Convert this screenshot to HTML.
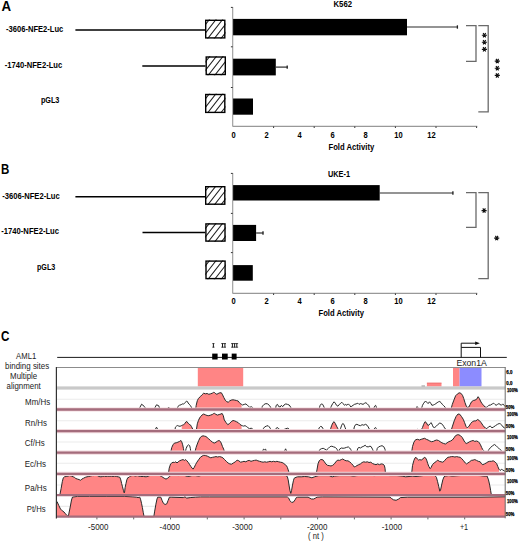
<!DOCTYPE html>
<html><head><meta charset="utf-8"><style>
html,body{margin:0;padding:0;background:#fff;}
svg{display:block;}
</style></head><body>
<svg width="520" height="542" viewBox="0 0 520 542">
<rect width="520" height="542" fill="#fff"/>
<text x="1.4" y="10.7" font-family="'Liberation Sans', sans-serif" font-size="13.8" font-weight="bold" fill="#000" text-anchor="start" textLength="9.6" lengthAdjust="spacingAndGlyphs">A</text>
<text x="6.1" y="32.1" font-family="'Liberation Sans', sans-serif" font-size="8.6" font-weight="bold" fill="#000" text-anchor="start" textLength="57.2" lengthAdjust="spacingAndGlyphs">-3606-NFE2-Luc</text>
<text x="4.7" y="67.9" font-family="'Liberation Sans', sans-serif" font-size="8.6" font-weight="bold" fill="#000" text-anchor="start" textLength="57.5" lengthAdjust="spacingAndGlyphs">-1740-NFE2-Luc</text>
<text x="40.9" y="102.9" font-family="'Liberation Sans', sans-serif" font-size="8.6" font-weight="bold" fill="#000" text-anchor="start" textLength="18.5" lengthAdjust="spacingAndGlyphs">pGL3</text>
<line x1="75.4" y1="30.0" x2="206" y2="30.0" stroke="#000" stroke-width="1.4"/>
<line x1="142.3" y1="66.0" x2="206" y2="66.0" stroke="#000" stroke-width="1.4"/>
<clipPath id="hA0"><rect x="205.0" y="19.6" width="20.5" height="19.0"/></clipPath>
<rect x="205.0" y="19.6" width="20.5" height="19.0" fill="#fff"/>
<path clip-path="url(#hA0)" d="M228.22,-13.03L178.94,50.01M232.32,-9.83L183.04,53.21M236.42,-6.62L187.14,56.42M240.51,-3.42L191.23,59.62M244.61,-0.22L195.33,62.82M248.71,2.99L199.43,66.03M252.81,6.19L203.53,69.23M256.90,9.39L207.62,72.43" stroke="#222" stroke-width="1.05" fill="none"/>
<rect x="205.7" y="20.3" width="19.1" height="17.6" fill="none" stroke="#000" stroke-width="1.4"/>
<clipPath id="hA1"><rect x="205.5" y="56.3" width="20.5" height="18.9"/></clipPath>
<rect x="205.5" y="56.3" width="20.5" height="18.9" fill="#fff"/>
<path clip-path="url(#hA1)" d="M228.72,23.67L179.44,86.71M232.82,26.87L183.54,89.91M236.92,30.08L187.64,93.12M241.01,33.28L191.73,96.32M245.11,36.48L195.83,99.52M249.21,39.69L199.93,102.73M253.31,42.89L204.03,105.93M257.40,46.09L208.12,109.13" stroke="#222" stroke-width="1.05" fill="none"/>
<rect x="206.2" y="57.0" width="19.1" height="17.5" fill="none" stroke="#000" stroke-width="1.4"/>
<clipPath id="hA2"><rect x="205.0" y="93.8" width="20.5" height="19.3"/></clipPath>
<rect x="205.0" y="93.8" width="20.5" height="19.3" fill="#fff"/>
<path clip-path="url(#hA2)" d="M228.22,61.17L178.94,124.21M232.32,64.37L183.04,127.41M236.42,67.58L187.14,130.62M240.51,70.78L191.23,133.82M244.61,73.98L195.33,137.02M248.71,77.19L199.43,140.23M252.81,80.39L203.53,143.43M256.90,83.59L207.62,146.63" stroke="#222" stroke-width="1.05" fill="none"/>
<rect x="205.7" y="94.5" width="19.1" height="17.900000000000002" fill="none" stroke="#000" stroke-width="1.4"/>
<line x1="232.7" y1="7.1" x2="232.7" y2="126.4" stroke="#999" stroke-width="1.1"/>
<line x1="230.89999999999998" y1="7.4" x2="232.7" y2="7.4" stroke="#333" stroke-width="1"/>
<line x1="230.89999999999998" y1="46.8" x2="232.7" y2="46.8" stroke="#333" stroke-width="1"/>
<line x1="230.89999999999998" y1="87.5" x2="232.7" y2="87.5" stroke="#333" stroke-width="1"/>
<line x1="232.7" y1="126.4" x2="477.3" y2="126.4" stroke="#999" stroke-width="1.1"/>
<line x1="273.6" y1="126.4" x2="273.6" y2="128.0" stroke="#333" stroke-width="1"/>
<line x1="314.2" y1="126.4" x2="314.2" y2="128.0" stroke="#333" stroke-width="1"/>
<line x1="354.8" y1="126.4" x2="354.8" y2="128.0" stroke="#333" stroke-width="1"/>
<line x1="395.4" y1="126.4" x2="395.4" y2="128.0" stroke="#333" stroke-width="1"/>
<line x1="436.0" y1="126.4" x2="436.0" y2="128.0" stroke="#333" stroke-width="1"/>
<line x1="476.6" y1="126.4" x2="476.6" y2="128.0" stroke="#333" stroke-width="1"/>
<rect x="233.1" y="18.9" width="173.90" height="16.40" fill="#000"/>
<line x1="407.0" y1="27.0" x2="457.7" y2="27.0" stroke="#2a2a2a" stroke-width="1.2"/>
<line x1="457.4" y1="25.3" x2="457.4" y2="28.7" stroke="#222" stroke-width="1.3"/>
<rect x="233.1" y="58.7" width="42.70" height="16.70" fill="#000"/>
<line x1="275.8" y1="67.1" x2="287.5" y2="67.1" stroke="#2a2a2a" stroke-width="1.2"/>
<line x1="287.2" y1="65.39999999999999" x2="287.2" y2="68.8" stroke="#222" stroke-width="1.3"/>
<rect x="233.1" y="98.5" width="19.90" height="16.20" fill="#000"/>
<text x="233.5" y="138.0" font-family="'Liberation Sans', sans-serif" font-size="8.8" font-weight="bold" fill="#000" text-anchor="middle" textLength="4.2" lengthAdjust="spacingAndGlyphs">0</text>
<text x="266.5" y="138.0" font-family="'Liberation Sans', sans-serif" font-size="8.8" font-weight="bold" fill="#000" text-anchor="middle" textLength="4.2" lengthAdjust="spacingAndGlyphs">2</text>
<text x="299.5" y="138.0" font-family="'Liberation Sans', sans-serif" font-size="8.8" font-weight="bold" fill="#000" text-anchor="middle" textLength="4.2" lengthAdjust="spacingAndGlyphs">4</text>
<text x="332.5" y="138.0" font-family="'Liberation Sans', sans-serif" font-size="8.8" font-weight="bold" fill="#000" text-anchor="middle" textLength="4.2" lengthAdjust="spacingAndGlyphs">6</text>
<text x="365.5" y="138.0" font-family="'Liberation Sans', sans-serif" font-size="8.8" font-weight="bold" fill="#000" text-anchor="middle" textLength="4.2" lengthAdjust="spacingAndGlyphs">8</text>
<text x="398.5" y="138.0" font-family="'Liberation Sans', sans-serif" font-size="8.8" font-weight="bold" fill="#000" text-anchor="middle" textLength="8.4" lengthAdjust="spacingAndGlyphs">10</text>
<text x="431.5" y="138.0" font-family="'Liberation Sans', sans-serif" font-size="8.8" font-weight="bold" fill="#000" text-anchor="middle" textLength="8.4" lengthAdjust="spacingAndGlyphs">12</text>
<text x="328.5" y="149.9" font-family="'Liberation Sans', sans-serif" font-size="8.8" font-weight="bold" fill="#000" text-anchor="start" textLength="45.7" lengthAdjust="spacingAndGlyphs">Fold Activity</text>
<text x="333.5" y="6.9" font-family="'Liberation Sans', sans-serif" font-size="8.6" font-weight="bold" fill="#000" text-anchor="start" textLength="18.5" lengthAdjust="spacingAndGlyphs">K562</text>
<path d="M466.0,25.6H476.0V61.4H466.0" stroke="#6a6a6a" stroke-width="1.3" fill="none"/>
<path d="M478.3,25.6H488.2V111.9H478.3" stroke="#6a6a6a" stroke-width="1.3" fill="none"/>
<path d="M481.85,35.20L486.95,35.20M483.12,32.99L485.67,37.41M485.67,32.99L483.12,37.41" stroke="#111" stroke-width="1.15" fill="none"/>
<path d="M481.85,42.20L486.95,42.20M483.12,39.99L485.67,44.41M485.67,39.99L483.12,44.41" stroke="#111" stroke-width="1.15" fill="none"/>
<path d="M481.85,49.30L486.95,49.30M483.12,47.09L485.67,51.51M485.67,47.09L483.12,51.51" stroke="#111" stroke-width="1.15" fill="none"/>
<path d="M494.75,61.10L499.85,61.10M496.03,58.89L498.57,63.31M498.57,58.89L496.03,63.31" stroke="#111" stroke-width="1.15" fill="none"/>
<path d="M494.75,68.20L499.85,68.20M496.03,65.99L498.57,70.41M498.57,65.99L496.03,70.41" stroke="#111" stroke-width="1.15" fill="none"/>
<path d="M494.75,75.40L499.85,75.40M496.03,73.19L498.57,77.61M498.57,73.19L496.03,77.61" stroke="#111" stroke-width="1.15" fill="none"/>
<text x="1.1" y="174.0" font-family="'Liberation Sans', sans-serif" font-size="13.8" font-weight="bold" fill="#000" text-anchor="start" textLength="8.3" lengthAdjust="spacingAndGlyphs">B</text>
<text x="2.3" y="198.6" font-family="'Liberation Sans', sans-serif" font-size="8.6" font-weight="bold" fill="#000" text-anchor="start" textLength="57.4" lengthAdjust="spacingAndGlyphs">-3606-NFE2-Luc</text>
<text x="1.3" y="234.2" font-family="'Liberation Sans', sans-serif" font-size="8.6" font-weight="bold" fill="#000" text-anchor="start" textLength="57.7" lengthAdjust="spacingAndGlyphs">-1740-NFE2-Luc</text>
<text x="37.0" y="270.0" font-family="'Liberation Sans', sans-serif" font-size="8.6" font-weight="bold" fill="#000" text-anchor="start" textLength="18.3" lengthAdjust="spacingAndGlyphs">pGL3</text>
<line x1="75.4" y1="196.7" x2="206" y2="196.7" stroke="#000" stroke-width="1.4"/>
<line x1="142.5" y1="232.5" x2="206" y2="232.5" stroke="#000" stroke-width="1.4"/>
<clipPath id="hB0"><rect x="205.0" y="186.0" width="20.5" height="18.9"/></clipPath>
<rect x="205.0" y="186.0" width="20.5" height="18.9" fill="#fff"/>
<path clip-path="url(#hB0)" d="M228.22,153.37L178.94,216.41M232.32,156.57L183.04,219.61M236.42,159.78L187.14,222.82M240.51,162.98L191.23,226.02M244.61,166.18L195.33,229.22M248.71,169.39L199.43,232.43M252.81,172.59L203.53,235.63M256.90,175.79L207.62,238.83" stroke="#222" stroke-width="1.05" fill="none"/>
<rect x="205.7" y="186.7" width="19.1" height="17.5" fill="none" stroke="#000" stroke-width="1.4"/>
<clipPath id="hB1"><rect x="205.2" y="223.2" width="20.5" height="18.6"/></clipPath>
<rect x="205.2" y="223.2" width="20.5" height="18.6" fill="#fff"/>
<path clip-path="url(#hB1)" d="M228.42,190.57L179.14,253.61M232.52,193.77L183.24,256.81M236.62,196.98L187.34,260.02M240.71,200.18L191.43,263.22M244.81,203.38L195.53,266.42M248.91,206.59L199.63,269.63M253.01,209.79L203.73,272.83M257.10,212.99L207.82,276.03" stroke="#222" stroke-width="1.05" fill="none"/>
<rect x="205.89999999999998" y="223.89999999999998" width="19.1" height="17.200000000000003" fill="none" stroke="#000" stroke-width="1.4"/>
<clipPath id="hB2"><rect x="205.3" y="260.4" width="20.5" height="18.9"/></clipPath>
<rect x="205.3" y="260.4" width="20.5" height="18.9" fill="#fff"/>
<path clip-path="url(#hB2)" d="M228.52,227.77L179.24,290.81M232.62,230.97L183.34,294.01M236.72,234.18L187.44,297.22M240.81,237.38L191.53,300.42M244.91,240.58L195.63,303.62M249.01,243.79L199.73,306.83M253.11,246.99L203.83,310.03M257.20,250.19L207.92,313.23" stroke="#222" stroke-width="1.05" fill="none"/>
<rect x="206.0" y="261.09999999999997" width="19.1" height="17.5" fill="none" stroke="#000" stroke-width="1.4"/>
<line x1="232.7" y1="173.1" x2="232.7" y2="293.4" stroke="#999" stroke-width="1.1"/>
<line x1="230.89999999999998" y1="173.4" x2="232.7" y2="173.4" stroke="#333" stroke-width="1"/>
<line x1="230.89999999999998" y1="213.4" x2="232.7" y2="213.4" stroke="#333" stroke-width="1"/>
<line x1="230.89999999999998" y1="252.6" x2="232.7" y2="252.6" stroke="#333" stroke-width="1"/>
<line x1="232.7" y1="293.4" x2="477.3" y2="293.4" stroke="#999" stroke-width="1.1"/>
<line x1="273.6" y1="293.4" x2="273.6" y2="295.0" stroke="#333" stroke-width="1"/>
<line x1="314.2" y1="293.4" x2="314.2" y2="295.0" stroke="#333" stroke-width="1"/>
<line x1="354.8" y1="293.4" x2="354.8" y2="295.0" stroke="#333" stroke-width="1"/>
<line x1="395.4" y1="293.4" x2="395.4" y2="295.0" stroke="#333" stroke-width="1"/>
<line x1="436.0" y1="293.4" x2="436.0" y2="295.0" stroke="#333" stroke-width="1"/>
<line x1="476.6" y1="293.4" x2="476.6" y2="295.0" stroke="#333" stroke-width="1"/>
<rect x="233.1" y="185.1" width="146.60" height="15.40" fill="#000"/>
<line x1="379.7" y1="193.0" x2="453.2" y2="193.0" stroke="#2a2a2a" stroke-width="1.2"/>
<line x1="452.9" y1="191.3" x2="452.9" y2="194.7" stroke="#222" stroke-width="1.3"/>
<rect x="233.1" y="224.9" width="23.00" height="16.10" fill="#000"/>
<line x1="256.1" y1="233.0" x2="263.3" y2="233.0" stroke="#2a2a2a" stroke-width="1.2"/>
<line x1="263.0" y1="231.3" x2="263.0" y2="234.7" stroke="#222" stroke-width="1.3"/>
<rect x="233.1" y="265.1" width="19.70" height="15.60" fill="#000"/>
<text x="233.5" y="304.4" font-family="'Liberation Sans', sans-serif" font-size="8.8" font-weight="bold" fill="#000" text-anchor="middle" textLength="4.2" lengthAdjust="spacingAndGlyphs">0</text>
<text x="266.5" y="304.4" font-family="'Liberation Sans', sans-serif" font-size="8.8" font-weight="bold" fill="#000" text-anchor="middle" textLength="4.2" lengthAdjust="spacingAndGlyphs">2</text>
<text x="299.5" y="304.4" font-family="'Liberation Sans', sans-serif" font-size="8.8" font-weight="bold" fill="#000" text-anchor="middle" textLength="4.2" lengthAdjust="spacingAndGlyphs">4</text>
<text x="332.5" y="304.4" font-family="'Liberation Sans', sans-serif" font-size="8.8" font-weight="bold" fill="#000" text-anchor="middle" textLength="4.2" lengthAdjust="spacingAndGlyphs">6</text>
<text x="365.5" y="304.4" font-family="'Liberation Sans', sans-serif" font-size="8.8" font-weight="bold" fill="#000" text-anchor="middle" textLength="4.2" lengthAdjust="spacingAndGlyphs">8</text>
<text x="398.5" y="304.4" font-family="'Liberation Sans', sans-serif" font-size="8.8" font-weight="bold" fill="#000" text-anchor="middle" textLength="8.4" lengthAdjust="spacingAndGlyphs">10</text>
<text x="431.5" y="304.4" font-family="'Liberation Sans', sans-serif" font-size="8.8" font-weight="bold" fill="#000" text-anchor="middle" textLength="8.4" lengthAdjust="spacingAndGlyphs">12</text>
<text x="318.5" y="315.8" font-family="'Liberation Sans', sans-serif" font-size="8.8" font-weight="bold" fill="#000" text-anchor="start" textLength="45.5" lengthAdjust="spacingAndGlyphs">Fold Activity</text>
<text x="328.0" y="177.1" font-family="'Liberation Sans', sans-serif" font-size="8.6" font-weight="bold" fill="#000" text-anchor="start" textLength="22.0" lengthAdjust="spacingAndGlyphs">UKE-1</text>
<path d="M466.0,192.6H476.0V227.4H466.0" stroke="#6a6a6a" stroke-width="1.3" fill="none"/>
<path d="M478.3,192.6H488.2V278.7H478.3" stroke="#6a6a6a" stroke-width="1.3" fill="none"/>
<path d="M481.55,210.60L486.65,210.60M482.83,208.39L485.38,212.81M485.38,208.39L482.83,212.81" stroke="#111" stroke-width="1.15" fill="none"/>
<path d="M494.15,238.10L499.25,238.10M495.43,235.89L497.97,240.31M497.97,235.89L495.43,240.31" stroke="#111" stroke-width="1.15" fill="none"/>
<text x="1.0" y="340.9" font-family="'Liberation Sans', sans-serif" font-size="13.8" font-weight="bold" fill="#000" text-anchor="start" textLength="8.4" lengthAdjust="spacingAndGlyphs">C</text>
<text x="16.1" y="358.6" font-family="'Liberation Sans', sans-serif" font-size="8.8" font-weight="normal" fill="#222" text-anchor="start" textLength="20.1" lengthAdjust="spacingAndGlyphs">AML1</text>
<text x="5.1" y="368.6" font-family="'Liberation Sans', sans-serif" font-size="8.8" font-weight="normal" fill="#222" text-anchor="start" textLength="44.1" lengthAdjust="spacingAndGlyphs">binding sites</text>
<text x="10.1" y="379.0" font-family="'Liberation Sans', sans-serif" font-size="8.8" font-weight="normal" fill="#222" text-anchor="start" textLength="27.1" lengthAdjust="spacingAndGlyphs">Multiple</text>
<text x="6.6" y="388.5" font-family="'Liberation Sans', sans-serif" font-size="8.8" font-weight="normal" fill="#222" text-anchor="start" textLength="34.1" lengthAdjust="spacingAndGlyphs">alignment</text>
<text x="25.1" y="404.9" font-family="'Liberation Sans', sans-serif" font-size="8.8" font-weight="normal" fill="#222" text-anchor="start" textLength="25.1" lengthAdjust="spacingAndGlyphs">Mm/Hs</text>
<text x="25.1" y="425.8" font-family="'Liberation Sans', sans-serif" font-size="8.8" font-weight="normal" fill="#222" text-anchor="start" textLength="21.9" lengthAdjust="spacingAndGlyphs">Rn/Hs</text>
<text x="24.8" y="445.9" font-family="'Liberation Sans', sans-serif" font-size="8.8" font-weight="normal" fill="#222" text-anchor="start" textLength="19.8" lengthAdjust="spacingAndGlyphs">Cf/Hs</text>
<text x="24.8" y="467.0" font-family="'Liberation Sans', sans-serif" font-size="8.8" font-weight="normal" fill="#222" text-anchor="start" textLength="21.3" lengthAdjust="spacingAndGlyphs">Ec/Hs</text>
<text x="24.8" y="491.0" font-family="'Liberation Sans', sans-serif" font-size="8.8" font-weight="normal" fill="#222" text-anchor="start" textLength="21.9" lengthAdjust="spacingAndGlyphs">Pa/Hs</text>
<text x="26.8" y="511.8" font-family="'Liberation Sans', sans-serif" font-size="8.8" font-weight="normal" fill="#222" text-anchor="start" textLength="18.8" lengthAdjust="spacingAndGlyphs">Pt/Hs</text>
<line x1="57.2" y1="357.4" x2="506.8" y2="357.4" stroke="#1a1a1a" stroke-width="1"/>
<rect x="212.2" y="353.6" width="5.4" height="5.9" fill="#000"/>
<rect x="222.0" y="353.6" width="5.7" height="5.9" fill="#000"/>
<rect x="231.7" y="353.6" width="4.9" height="5.9" fill="#000"/>
<rect x="212.3" y="343.3" width="2.2" height="0.75" fill="#1a1a1a"/>
<rect x="212.3" y="346.75" width="2.2" height="0.75" fill="#1a1a1a"/>
<rect x="212.90" y="343.3" width="1.0" height="4.2" fill="#1a1a1a"/>
<rect x="221.2" y="343.3" width="4.8" height="0.75" fill="#1a1a1a"/>
<rect x="221.2" y="346.75" width="4.8" height="0.75" fill="#1a1a1a"/>
<rect x="222.00" y="343.3" width="1.0" height="4.2" fill="#1a1a1a"/>
<rect x="224.40" y="343.3" width="1.0" height="4.2" fill="#1a1a1a"/>
<rect x="231.1" y="343.3" width="7.0" height="0.75" fill="#1a1a1a"/>
<rect x="231.1" y="346.75" width="7.0" height="0.75" fill="#1a1a1a"/>
<rect x="231.90" y="343.3" width="1.0" height="4.2" fill="#1a1a1a"/>
<rect x="234.10" y="343.3" width="1.0" height="4.2" fill="#1a1a1a"/>
<rect x="236.30" y="343.3" width="1.0" height="4.2" fill="#1a1a1a"/>
<path d="M461.2,357.4V347.4H480.5V357.4" fill="none" stroke="#111" stroke-width="1"/>
<path d="M461.2,347.4V343.2H476" fill="none" stroke="#111" stroke-width="1"/>
<path d="M475.2,341.4L479.9,343.2L475.2,345.0Z" fill="#111"/>
<text x="456.4" y="365.8" font-family="'Liberation Sans', sans-serif" font-size="8.6" font-weight="normal" fill="#222" text-anchor="start" textLength="30.4" lengthAdjust="spacingAndGlyphs">Exon1A</text>
<rect x="197.8" y="367.6" width="45.4" height="18.9" fill="#ff8585"/>
<rect x="426.9" y="382.8" width="14.6" height="3.7" fill="#ff8585"/>
<line x1="426.9" y1="383.1" x2="441.5" y2="383.1" stroke="#e06060" stroke-width="0.6"/>
<line x1="421.5" y1="386.1" x2="425" y2="386.1" stroke="#555" stroke-width="0.8"/>
<rect x="453.0" y="367.6" width="6.6" height="18.9" fill="#ff8585"/>
<rect x="459.6" y="367.6" width="21.9" height="18.9" fill="#8c8cff"/>
<rect x="57" y="386.4" width="448.3" height="3.2" fill="#c9c9c9"/>
<line x1="57" y1="399.2" x2="505.3" y2="399.2" stroke="#ebebeb" stroke-width="1.1"/>
<line x1="57" y1="420.8" x2="505.3" y2="420.8" stroke="#ebebeb" stroke-width="1.1"/>
<line x1="57" y1="442.0" x2="505.3" y2="442.0" stroke="#ebebeb" stroke-width="1.1"/>
<line x1="57" y1="463.3" x2="505.3" y2="463.3" stroke="#ebebeb" stroke-width="1.1"/>
<line x1="57" y1="485.0" x2="505.3" y2="485.0" stroke="#ebebeb" stroke-width="1.1"/>
<line x1="57" y1="506.4" x2="505.3" y2="506.4" stroke="#ebebeb" stroke-width="1.1"/>
<polygon points="195.6,409.5 195.6,409.5 196.2,405.3 197.3,400.7 198.5,398.4 200.2,396.7 201.9,394.9 203.7,393.2 205.4,393.8 207.1,393.5 208.8,394.3 210.6,393.8 212.3,393.2 213.5,392.4 214.6,392.6 215.8,393.8 216.9,394.3 218.1,393.5 219.8,392.8 221.4,392.8 222.6,394.9 223.8,397.5 225.2,400.1 226.9,401.8 228.3,402.2 229.5,401.0 231.2,400.1 233.0,399.8 234.7,400.1 236.4,400.5 238.2,401.0 239.4,402.7 240.8,403.9 241.6,404.4 241.6,409.5" fill="#ff8585"/>
<polygon points="451.0,409.5 451.0,409.1 452.3,404.4 453.9,400.1 455.6,395.8 457.3,394.1 459.1,392.8 460.8,393.2 462.5,395.3 463.7,398.4 465.0,402.7 466.3,406.2 467.2,407.4 467.6,407.3 467.6,409.5" fill="#ff8585"/>
<polygon points="468.3,409.5 468.3,407.1 468.9,407.0 470.2,404.4 471.5,401.8 473.3,400.5 475.0,400.1 476.7,399.2 478.1,396.7 479.3,398.4 480.5,401.0 481.9,403.6 483.7,405.3 485.0,407.0 486.2,407.4 486.2,409.5" fill="#ff8585"/>
<polygon points="181.7,431.2 181.7,425.5 182.3,425.2 183.5,424.9 184.6,423.8 185.8,422.0 186.9,421.5 188.1,423.2 189.2,424.3 190.4,424.9 191.5,426.7 192.3,428.2 192.3,431.2" fill="#ff8585"/>
<polygon points="196.2,431.2 196.2,431.2 197.3,423.8 198.5,420.3 199.6,418.0 200.8,416.3 201.9,415.1 203.7,414.0 205.4,414.8 207.1,415.5 208.8,415.7 210.6,415.1 212.3,414.5 213.5,413.6 214.6,413.4 215.8,414.3 217.5,415.1 219.2,414.5 221.0,414.0 222.1,413.4 223.3,415.7 224.3,420.0 226.1,422.6 227.8,424.7 229.5,423.5 231.2,421.7 233.0,420.5 234.7,420.9 236.4,421.7 238.2,422.6 239.9,424.3 241.1,425.2 241.6,425.4 241.6,431.2" fill="#ff8585"/>
<polygon points="330.5,431.2 330.5,428.9 330.6,428.7 331.8,425.2 333.0,422.6 334.1,421.7 335.3,423.5 336.5,426.1 337.9,428.7 339.0,430.7 339.0,431.2" fill="#ff8585"/>
<polygon points="422.5,431.2 422.5,427.5 423.7,424.3 425.0,421.7 426.3,422.6 427.7,425.2 428.9,425.2 429.0,425.1 429.0,431.2" fill="#ff8585"/>
<polygon points="451.0,431.2 451.0,430.9 452.5,426.1 454.2,420.9 456.0,416.6 458.0,414.0 459.8,414.3 461.5,416.6 463.2,419.2 464.6,422.6 466.0,426.4 467.2,427.8 467.6,427.5 467.6,431.2" fill="#ff8585"/>
<polygon points="468.3,431.2 468.3,426.9 468.9,426.4 470.7,423.5 472.4,421.7 474.1,420.9 475.9,420.9 477.6,419.5 479.3,420.5 481.1,422.6 482.8,425.2 484.0,426.9 485.4,427.8 485.4,431.2" fill="#ff8585"/>
<polygon points="170.6,452.6 170.6,452.6 171.8,447.4 173.0,444.8 174.4,443.1 176.2,442.8 177.9,442.2 179.6,441.4 181.0,440.5 181.7,441.7 182.7,444.8 183.4,448.3 184.1,452.6 184.1,452.6" fill="#ff8585"/>
<polygon points="194.8,452.6 194.8,452.6 196.1,447.4 197.3,444.0 198.7,440.5 200.0,437.9 201.2,436.5 203.0,435.8 204.7,436.2 205.9,436.5 207.3,437.6 208.7,438.8 210.4,440.5 212.5,442.2 214.2,443.1 216.0,442.2 217.7,441.0 219.1,440.5 220.3,441.4 221.2,443.1 222.5,446.6 223.7,449.2 224.6,452.6 224.6,452.6" fill="#ff8585"/>
<polygon points="411.6,452.6 411.6,452.6 412.5,446.6 413.9,442.2 415.6,439.7 417.7,439.3 419.4,440.0 421.2,439.3 422.9,438.8 424.6,438.3 426.3,439.3 428.1,440.0 429.8,441.0 431.5,441.7 433.3,441.4 435.0,440.5 436.7,440.0 438.5,440.5 440.2,441.7 441.9,442.8 443.7,443.5 445.4,444.0 447.1,442.8 448.8,441.7 450.6,441.0 452.3,440.0 454.0,437.9 455.4,435.8 457.2,434.8 458.9,434.8 460.6,435.8 462.3,437.6 463.6,440.0 464.8,442.2 466.2,443.5 467.9,442.8 469.6,441.7 471.3,441.0 473.1,440.5 474.8,441.4 476.5,441.0 478.3,441.7 479.3,442.8 480.5,444.8 481.6,447.4 482.5,449.1 482.5,452.6" fill="#ff8585"/>
<polygon points="168.4,473.9 168.4,473.9 169.2,468.2 170.6,463.9 171.8,463.0 173.0,462.2 174.4,462.5 175.8,461.8 177.0,463.0 178.2,461.8 179.6,460.8 181.3,460.1 183.1,459.6 184.5,460.4 185.7,459.6 186.9,460.8 188.3,462.5 189.7,464.7 190.9,466.5 192.1,468.2 193.1,469.1 194.3,467.3 195.5,464.7 196.9,462.2 198.7,459.6 200.4,457.3 202.1,456.1 203.8,455.2 205.6,455.6 207.3,456.1 209.0,457.0 210.8,457.8 212.5,457.3 214.2,457.0 216.0,456.6 217.7,457.0 219.4,456.6 221.2,457.0 222.9,457.8 224.6,459.6 226.3,461.3 228.1,463.0 229.8,463.9 231.5,464.2 233.3,463.0 235.4,461.8 237.1,460.1 238.8,460.8 240.6,462.2 242.3,461.8 244.0,461.3 245.8,461.8 247.5,460.8 249.2,460.4 251.0,461.3 252.7,460.8 254.4,460.4 256.2,460.1 257.9,460.8 259.6,461.3 261.3,461.8 263.1,462.2 264.8,461.8 266.5,462.2 268.3,461.8 270.0,461.3 271.7,461.8 273.5,461.3 275.2,461.8 276.9,461.3 278.7,461.8 280.4,462.2 282.1,462.5 283.8,463.5 285.2,464.7 286.4,465.6 287.3,467.3 288.2,469.9 289.0,472.5 289.4,473.9 289.4,473.9" fill="#ff8585"/>
<polygon points="316.2,473.9 316.2,473.9 317.1,469.1 318.0,463.9 319.2,460.8 320.6,459.6 322.0,459.6 323.2,460.1 324.4,461.8 325.8,463.9 327.5,465.3 329.2,465.6 331.0,466.0 332.7,465.3 334.4,463.9 336.2,461.3 337.9,460.1 339.6,460.4 341.3,459.6 342.7,459.0 344.5,460.1 346.2,460.8 347.9,460.8 349.7,461.8 351.4,463.5 353.1,465.3 354.3,467.0 355.5,466.5 356.9,465.6 358.7,464.7 360.4,463.9 362.1,462.5 363.8,461.8 365.6,462.2 367.3,461.8 369.0,462.5 370.8,462.2 372.5,463.5 374.2,464.2 376.0,464.7 377.7,463.9 379.4,464.7 381.2,463.9 382.9,464.2 384.3,465.3 385.0,468.2 385.5,473.9 385.5,473.9" fill="#ff8585"/>
<polygon points="411.6,473.9 411.6,473.9 412.5,465.6 413.9,460.4 415.1,457.8 416.0,457.3 417.3,459.0 418.6,460.1 419.8,459.6 421.2,460.1 422.9,459.0 424.3,457.3 425.5,457.8 426.7,460.1 427.7,463.5 428.9,466.5 430.2,468.7 431.2,467.3 432.4,464.7 434.1,463.0 435.9,461.8 437.6,460.1 439.3,461.3 441.1,461.8 442.8,462.2 444.5,460.8 446.2,458.7 448.0,457.3 449.7,457.0 451.4,456.6 453.2,456.6 454.9,457.0 456.6,456.6 458.4,457.0 460.1,457.3 461.8,458.7 463.6,460.8 465.3,463.0 466.5,463.9 467.9,463.0 469.6,461.8 471.3,460.4 473.1,460.1 474.8,459.6 476.5,460.4 478.3,461.3 480.2,461.8 481.6,463.9 482.8,464.7 484.5,463.9 486.2,463.0 488.0,461.8 489.7,461.3 491.4,461.3 493.2,460.8 494.9,461.8 496.6,463.5 497.8,466.5 498.9,469.1 499.0,469.2 499.0,473.9" fill="#ff8585"/>
<polygon points="59.8,495.2 59.8,495.2 61.1,488.6 62.3,481.7 63.3,477.8 64.5,476.8 66.2,476.5 68.0,476.1 69.7,475.6 71.4,476.1 73.2,476.8 74.4,477.3 75.8,478.5 77.5,479.1 79.2,479.6 80.6,480.3 81.8,479.1 83.6,478.2 85.3,477.3 87.0,476.8 88.7,476.5 90.5,476.1 92.2,475.6 93.9,475.6 95.7,475.1 97.4,475.6 99.1,476.5 100.9,476.8 102.6,476.5 104.3,476.1 106.1,476.5 107.8,476.1 109.5,476.5 111.2,476.1 113.0,476.5 114.7,476.1 116.4,476.5 118.2,476.8 119.9,477.3 120.8,479.9 121.6,483.4 122.5,486.8 123.4,490.3 124.2,492.9 124.6,492.0 125.1,487.7 126.0,483.4 126.8,479.9 127.7,477.8 129.1,477.3 130.3,476.1 132.0,475.6 133.7,475.6 135.5,476.1 137.2,475.6 138.9,476.1 140.7,476.5 143.5,476.5 146.1,476.8 148.7,476.1 150.4,475.1 153.8,474.7 157.3,475.1 159.9,475.6 161.6,476.5 164.2,478.2 166.0,479.1 167.7,478.2 169.4,476.5 171.2,475.1 174.6,475.1 178.1,475.6 181.5,475.1 185.0,475.6 187.6,476.5 190.2,476.1 191.9,475.6 195.4,475.6 198.8,476.1 202.3,475.1 209.2,474.7 216.2,475.1 223.1,474.7 230.0,475.1 242.3,475.1 259.6,475.1 276.9,475.1 285.6,475.6 287.3,476.5 288.2,479.9 289.0,485.1 289.9,490.3 290.8,493.4 291.6,490.3 292.5,485.1 293.4,480.8 294.2,478.2 296.0,477.3 297.7,476.8 301.2,476.8 304.6,476.5 308.5,476.8 311.9,477.8 314.5,476.8 318.8,475.6 329.2,475.6 331.0,476.5 332.7,476.8 334.4,476.1 339.6,475.6 350.0,475.6 353.5,476.1 356.9,475.6 365.6,475.1 374.2,475.6 382.9,475.1 390.0,475.6 396.9,475.6 402.1,476.1 405.6,476.8 409.0,476.5 412.5,476.1 416.0,476.5 419.4,476.1 422.9,475.6 426.3,475.1 431.5,475.1 435.0,475.6 436.4,477.3 437.6,481.7 438.8,486.8 439.8,491.2 440.5,490.3 441.6,485.1 442.8,479.9 444.0,476.8 445.4,476.1 448.8,475.6 452.3,476.1 459.2,475.6 467.9,475.1 480.2,475.6 483.7,476.1 487.1,476.1 488.5,479.9 489.7,485.1 490.6,490.3 491.4,495.2 491.4,495.2" fill="#ff8585"/>
<polygon points="57.0,516.7 57.0,501.5 58.8,505.5 60.5,509.0 62.3,510.8 64.0,512.0 65.5,513.8 67.0,515.5 68.3,516.7 69.2,512.0 70.0,508.0 71.5,500.0 72.5,497.0 74.0,496.9 77.5,496.4 89.6,496.4 106.9,496.4 124.2,496.4 132.9,496.9 136.3,497.2 138.1,497.6 139.8,497.2 140.7,499.8 141.5,503.3 142.4,507.6 143.3,512.8 144.1,516.7 153.8,516.7 154.7,511.1 155.9,504.2 157.0,499.0 157.7,497.2 160.8,497.2 162.2,500.7 163.4,503.3 165.1,504.5 166.8,503.8 168.0,500.7 169.4,497.2 171.2,497.2 183.3,497.6 185.0,496.9 186.7,498.1 190.2,497.6 195.4,497.2 200.6,496.9 209.2,496.9 230.0,496.9 287.3,496.9 288.7,498.1 289.9,500.7 291.6,502.4 293.4,502.1 295.1,499.8 296.3,497.6 297.7,497.2 308.1,497.2 309.8,498.1 311.5,499.0 313.7,499.0 315.4,498.1 317.1,497.2 322.3,496.9 390.0,497.2 391.7,498.6 393.5,499.8 396.1,500.3 398.7,499.0 400.4,497.6 407.3,497.2 480.0,497.2 505.3,496.8 505.3,516.7" fill="#ff8585"/>
<polyline points="57.0,409.5 138.8,409.5 141.6,404.2 144.2,406.3 146.4,409.5 153.9,409.5 156.5,404.8 158.7,405.7 160.0,409.5 167.3,409.5 168.7,407.0 169.6,409.5 177.1,409.5 177.9,406.5 179.4,405.3 181.2,404.7 182.3,403.9 183.5,404.2 185.2,402.4 186.3,401.3 187.5,401.6 188.1,403.0 189.2,404.2 190.2,405.3 191.3,407.0 192.5,409.5 195.6,409.5 196.2,405.3 197.3,400.7 198.5,398.4 200.2,396.7 201.9,394.9 203.7,393.2 205.4,393.8 207.1,393.5 208.8,394.3 210.6,393.8 212.3,393.2 213.5,392.4 214.6,392.6 215.8,393.8 216.9,394.3 218.1,393.5 219.8,392.8 221.4,392.8 222.6,394.9 223.8,397.5 225.2,400.1 226.9,401.8 228.3,402.2 229.5,401.0 231.2,400.1 233.0,399.8 234.7,400.1 236.4,400.5 238.2,401.0 239.4,402.7 240.8,403.9 241.6,404.4 242.5,405.0 244.2,404.4 246.0,403.9 247.3,405.3 248.6,406.2 249.8,407.4 251.2,406.7 252.5,407.4 253.7,409.5 261.5,409.5 262.4,406.2 264.1,404.4 265.9,403.6 267.6,403.9 269.3,405.3 270.5,407.0 271.6,409.5 275.4,409.5 276.2,405.3 277.5,404.4 278.8,406.7 280.2,407.0 281.4,405.3 282.7,406.7 284.0,405.0 285.8,403.9 287.5,404.4 289.2,405.0 290.6,407.0 291.8,409.5 318.8,409.5 320.2,405.3 321.4,403.9 322.7,404.4 324.0,407.0 324.9,409.5 330.1,409.5 331.3,406.2 332.7,403.6 334.1,401.8 335.3,403.2 336.5,405.3 337.9,406.2 339.3,404.4 340.5,403.6 341.7,402.2 343.1,403.6 344.5,405.3 345.7,404.4 346.9,405.3 348.3,403.9 349.7,405.3 350.9,407.0 351.7,406.2 353.1,405.3 354.3,404.4 356.1,403.9 357.8,403.2 359.0,404.4 360.4,403.6 361.8,403.9 363.0,404.4 364.7,403.2 365.9,402.7 367.3,403.9 368.7,405.3 369.4,407.0 370.4,409.5 373.4,409.5 374.6,406.2 375.6,405.3 376.3,407.0 376.8,409.5 416.0,409.5 416.8,406.7 418.0,407.4 419.1,409.5 421.2,409.5 422.5,405.3 423.7,403.2 425.5,401.0 426.7,402.2 428.1,403.6 429.5,401.8 430.7,403.2 431.9,405.3 433.3,405.0 434.7,404.4 435.9,403.6 437.1,402.7 438.5,401.8 439.8,401.5 441.1,402.7 442.3,404.4 443.7,405.7 445.0,407.0 446.2,409.5 450.9,409.5 452.3,404.4 453.9,400.1 455.6,395.8 457.3,394.1 459.1,392.8 460.8,393.2 462.5,395.3 463.7,398.4 465.0,402.7 466.3,406.2 467.2,407.4 468.9,407.0 470.2,404.4 471.5,401.8 473.3,400.5 475.0,400.1 476.7,399.2 478.1,396.7 479.3,398.4 480.5,401.0 481.9,403.6 483.7,405.3 485.0,407.0 486.2,407.4 487.5,406.7 488.8,405.3 490.6,405.0 492.3,403.9 493.7,403.2 494.9,404.4 496.1,405.3 497.5,404.4 498.9,403.6 500.1,404.4 501.3,405.3 502.7,403.9 504.1,405.3 505.3,406.7" fill="none" stroke="#2a2a2a" stroke-width="1.0" stroke-linejoin="round"/>
<polyline points="57.0,431.2 154.4,431.2 156.5,427.2 158.7,431.2 174.8,431.2 175.4,427.2 176.5,426.1 177.7,425.5 178.8,426.1 180.0,426.3 181.2,425.8 182.3,425.2 183.5,424.9 184.6,423.8 185.8,422.0 186.9,421.5 188.1,423.2 189.2,424.3 190.4,424.9 191.5,426.7 192.7,429.0 193.8,431.2 196.2,431.2 197.3,423.8 198.5,420.3 199.6,418.0 200.8,416.3 201.9,415.1 203.7,414.0 205.4,414.8 207.1,415.5 208.8,415.7 210.6,415.1 212.3,414.5 213.5,413.6 214.6,413.4 215.8,414.3 217.5,415.1 219.2,414.5 221.0,414.0 222.1,413.4 223.3,415.7 224.3,420.0 226.1,422.6 227.8,424.7 229.5,423.5 231.2,421.7 233.0,420.5 234.7,420.9 236.4,421.7 238.2,422.6 239.9,424.3 241.1,425.2 242.2,425.7 243.4,426.1 245.1,425.7 246.3,426.4 247.7,427.5 249.4,428.7 251.2,428.2 252.9,429.2 254.3,431.2 262.4,431.2 263.3,428.7 264.7,426.9 266.4,426.1 268.1,425.7 269.3,426.9 270.5,428.7 271.6,431.2 275.0,431.2 276.2,428.2 277.5,427.5 278.8,429.2 280.2,429.5 281.4,431.2 284.0,429.5 285.8,428.7 287.8,428.2 289.2,429.2 291.0,431.2 318.0,431.2 319.2,427.8 320.6,426.4 322.0,426.9 323.0,428.7 324.0,431.2 329.2,431.2 330.6,428.7 331.8,425.2 333.0,422.6 334.1,421.7 335.3,423.5 336.5,426.1 337.9,428.7 339.3,431.2 340.5,428.7 341.7,425.2 342.7,423.5 343.9,424.3 345.2,427.8 346.5,431.2 353.5,431.2 354.3,426.9 355.5,424.7 356.9,424.3 358.7,425.2 360.4,425.7 362.1,424.7 363.8,425.2 365.6,424.3 367.0,425.2 368.2,426.9 369.4,429.2 370.4,431.2 373.4,431.2 374.6,428.2 375.6,427.5 376.3,428.7 377.3,431.2 416.0,431.2 417.3,429.2 418.0,429.5 419.4,431.2 421.5,429.5 422.5,427.5 423.7,424.3 425.0,421.7 426.3,422.6 427.7,425.2 428.9,425.2 430.2,423.5 431.2,422.6 432.4,425.2 433.3,427.2 434.7,427.5 436.4,426.1 438.1,424.3 439.8,423.0 441.1,423.5 442.3,424.3 443.7,426.4 445.0,428.7 446.2,429.5 447.5,431.2 450.9,431.2 452.5,426.1 454.2,420.9 456.0,416.6 458.0,414.0 459.8,414.3 461.5,416.6 463.2,419.2 464.6,422.6 466.0,426.4 467.2,427.8 468.9,426.4 470.7,423.5 472.4,421.7 474.1,420.9 475.9,420.9 477.6,419.5 479.3,420.5 481.1,422.6 482.8,425.2 484.0,426.9 485.4,427.8 486.8,428.7 488.5,426.9 490.2,426.1 492.0,427.8 493.7,426.9 495.4,425.7 497.5,424.3 499.2,423.5 500.6,424.0 501.8,425.2 503.0,426.9 504.4,427.8 505.3,428.7" fill="none" stroke="#2a2a2a" stroke-width="1.0" stroke-linejoin="round"/>
<polyline points="57.0,452.6 170.6,452.6 171.8,447.4 173.0,444.8 174.4,443.1 176.2,442.8 177.9,442.2 179.6,441.4 181.0,440.5 181.7,441.7 182.7,444.8 183.4,448.3 184.1,452.6 185.2,452.6 186.2,448.3 187.4,445.7 188.6,444.8 189.7,445.7 190.3,448.3 190.9,452.6 194.8,452.6 196.1,447.4 197.3,444.0 198.7,440.5 200.0,437.9 201.2,436.5 203.0,435.8 204.7,436.2 205.9,436.5 207.3,437.6 208.7,438.8 210.4,440.5 212.5,442.2 214.2,443.1 216.0,442.2 217.7,441.0 219.1,440.5 220.3,441.4 221.2,443.1 222.5,446.6 223.7,449.2 224.6,452.6 262.2,452.6 263.4,449.2 264.5,449.7 265.7,449.2 266.5,452.6 283.8,452.6 285.6,448.8 287.3,452.6 318.5,452.6 319.7,449.7 321.4,448.7 323.2,448.3 324.9,449.2 326.6,450.0 328.4,448.3 330.1,446.6 331.8,446.2 333.6,446.9 335.3,447.4 337.0,449.2 338.2,452.6 339.6,449.2 341.3,448.0 343.1,448.3 344.8,448.0 346.5,447.4 348.3,446.9 349.7,448.0 350.9,449.7 352.1,452.6 356.6,452.6 357.8,448.3 359.0,447.4 360.4,448.0 362.1,446.9 363.8,446.2 365.2,445.2 366.4,446.6 368.2,446.9 369.9,446.2 371.1,446.6 372.5,449.2 373.9,452.6 376.3,452.6 377.3,448.3 378.6,446.9 380.3,446.2 382.0,445.7 383.7,446.6 385.0,449.2 385.5,452.6 411.6,452.6 412.5,446.6 413.9,442.2 415.6,439.7 417.7,439.3 419.4,440.0 421.2,439.3 422.9,438.8 424.6,438.3 426.3,439.3 428.1,440.0 429.8,441.0 431.5,441.7 433.3,441.4 435.0,440.5 436.7,440.0 438.5,440.5 440.2,441.7 441.9,442.8 443.7,443.5 445.4,444.0 447.1,442.8 448.8,441.7 450.6,441.0 452.3,440.0 454.0,437.9 455.4,435.8 457.2,434.8 458.9,434.8 460.6,435.8 462.3,437.6 463.6,440.0 464.8,442.2 466.2,443.5 467.9,442.8 469.6,441.7 471.3,441.0 473.1,440.5 474.8,441.4 476.5,441.0 478.3,441.7 479.3,442.8 480.5,444.8 481.6,447.4 482.8,449.7 484.0,450.9 485.4,452.6 487.1,452.6 488.8,449.7 490.6,447.4 492.7,445.7 494.4,444.5 496.1,445.7 497.8,447.4 499.6,449.2 501.3,450.4 502.7,452.6 505.3,452.6" fill="none" stroke="#2a2a2a" stroke-width="1.0" stroke-linejoin="round"/>
<polyline points="57.0,473.9 168.4,473.9 169.2,468.2 170.6,463.9 171.8,463.0 173.0,462.2 174.4,462.5 175.8,461.8 177.0,463.0 178.2,461.8 179.6,460.8 181.3,460.1 183.1,459.6 184.5,460.4 185.7,459.6 186.9,460.8 188.3,462.5 189.7,464.7 190.9,466.5 192.1,468.2 193.1,469.1 194.3,467.3 195.5,464.7 196.9,462.2 198.7,459.6 200.4,457.3 202.1,456.1 203.8,455.2 205.6,455.6 207.3,456.1 209.0,457.0 210.8,457.8 212.5,457.3 214.2,457.0 216.0,456.6 217.7,457.0 219.4,456.6 221.2,457.0 222.9,457.8 224.6,459.6 226.3,461.3 228.1,463.0 229.8,463.9 231.5,464.2 233.3,463.0 235.4,461.8 237.1,460.1 238.8,460.8 240.6,462.2 242.3,461.8 244.0,461.3 245.8,461.8 247.5,460.8 249.2,460.4 251.0,461.3 252.7,460.8 254.4,460.4 256.2,460.1 257.9,460.8 259.6,461.3 261.3,461.8 263.1,462.2 264.8,461.8 266.5,462.2 268.3,461.8 270.0,461.3 271.7,461.8 273.5,461.3 275.2,461.8 276.9,461.3 278.7,461.8 280.4,462.2 282.1,462.5 283.8,463.5 285.2,464.7 286.4,465.6 287.3,467.3 288.2,469.9 289.0,472.5 289.4,473.9 316.2,473.9 317.1,469.1 318.0,463.9 319.2,460.8 320.6,459.6 322.0,459.6 323.2,460.1 324.4,461.8 325.8,463.9 327.5,465.3 329.2,465.6 331.0,466.0 332.7,465.3 334.4,463.9 336.2,461.3 337.9,460.1 339.6,460.4 341.3,459.6 342.7,459.0 344.5,460.1 346.2,460.8 347.9,460.8 349.7,461.8 351.4,463.5 353.1,465.3 354.3,467.0 355.5,466.5 356.9,465.6 358.7,464.7 360.4,463.9 362.1,462.5 363.8,461.8 365.6,462.2 367.3,461.8 369.0,462.5 370.8,462.2 372.5,463.5 374.2,464.2 376.0,464.7 377.7,463.9 379.4,464.7 381.2,463.9 382.9,464.2 384.3,465.3 385.0,468.2 385.5,473.9 411.6,473.9 412.5,465.6 413.9,460.4 415.1,457.8 416.0,457.3 417.3,459.0 418.6,460.1 419.8,459.6 421.2,460.1 422.9,459.0 424.3,457.3 425.5,457.8 426.7,460.1 427.7,463.5 428.9,466.5 430.2,468.7 431.2,467.3 432.4,464.7 434.1,463.0 435.9,461.8 437.6,460.1 439.3,461.3 441.1,461.8 442.8,462.2 444.5,460.8 446.2,458.7 448.0,457.3 449.7,457.0 451.4,456.6 453.2,456.6 454.9,457.0 456.6,456.6 458.4,457.0 460.1,457.3 461.8,458.7 463.6,460.8 465.3,463.0 466.5,463.9 467.9,463.0 469.6,461.8 471.3,460.4 473.1,460.1 474.8,459.6 476.5,460.4 478.3,461.3 480.2,461.8 481.6,463.9 482.8,464.7 484.5,463.9 486.2,463.0 488.0,461.8 489.7,461.3 491.4,461.3 493.2,460.8 494.9,461.8 496.6,463.5 497.8,466.5 498.9,469.1 500.1,470.5 501.3,469.4 502.7,469.9 504.1,470.8 505.3,471.7" fill="none" stroke="#2a2a2a" stroke-width="1.0" stroke-linejoin="round"/>
<polyline points="57.0,495.2 59.8,495.2 61.1,488.6 62.3,481.7 63.3,477.8 64.5,476.8 66.2,476.5 68.0,476.1 69.7,475.6 71.4,476.1 73.2,476.8 74.4,477.3 75.8,478.5 77.5,479.1 79.2,479.6 80.6,480.3 81.8,479.1 83.6,478.2 85.3,477.3 87.0,476.8 88.7,476.5 90.5,476.1 92.2,475.6 93.9,475.6 95.7,475.1 97.4,475.6 99.1,476.5 100.9,476.8 102.6,476.5 104.3,476.1 106.1,476.5 107.8,476.1 109.5,476.5 111.2,476.1 113.0,476.5 114.7,476.1 116.4,476.5 118.2,476.8 119.9,477.3 120.8,479.9 121.6,483.4 122.5,486.8 123.4,490.3 124.2,492.9 124.6,492.0 125.1,487.7 126.0,483.4 126.8,479.9 127.7,477.8 129.1,477.3 130.3,476.1 132.0,475.6 133.7,475.6 135.5,476.1 137.2,475.6 138.9,476.1 140.7,476.5 143.5,476.5 146.1,476.8 148.7,476.1 150.4,475.1 153.8,474.7 157.3,475.1 159.9,475.6 161.6,476.5 164.2,478.2 166.0,479.1 167.7,478.2 169.4,476.5 171.2,475.1 174.6,475.1 178.1,475.6 181.5,475.1 185.0,475.6 187.6,476.5 190.2,476.1 191.9,475.6 195.4,475.6 198.8,476.1 202.3,475.1 209.2,474.7 216.2,475.1 223.1,474.7 230.0,475.1 242.3,475.1 259.6,475.1 276.9,475.1 285.6,475.6 287.3,476.5 288.2,479.9 289.0,485.1 289.9,490.3 290.8,493.4 291.6,490.3 292.5,485.1 293.4,480.8 294.2,478.2 296.0,477.3 297.7,476.8 301.2,476.8 304.6,476.5 308.5,476.8 311.9,477.8 314.5,476.8 318.8,475.6 329.2,475.6 331.0,476.5 332.7,476.8 334.4,476.1 339.6,475.6 350.0,475.6 353.5,476.1 356.9,475.6 365.6,475.1 374.2,475.6 382.9,475.1 390.0,475.6 396.9,475.6 402.1,476.1 405.6,476.8 409.0,476.5 412.5,476.1 416.0,476.5 419.4,476.1 422.9,475.6 426.3,475.1 431.5,475.1 435.0,475.6 436.4,477.3 437.6,481.7 438.8,486.8 439.8,491.2 440.5,490.3 441.6,485.1 442.8,479.9 444.0,476.8 445.4,476.1 448.8,475.6 452.3,476.1 459.2,475.6 467.9,475.1 480.2,475.6 483.7,476.1 487.1,476.1 488.5,479.9 489.7,485.1 490.6,490.3 491.4,495.2 505.3,495.2" fill="none" stroke="#2a2a2a" stroke-width="1.0" stroke-linejoin="round"/>
<polyline points="57.0,501.5 58.8,505.5 60.5,509.0 62.3,510.8 64.0,512.0 65.5,513.8 67.0,515.5 68.3,516.7 69.2,512.0 70.0,508.0 71.5,500.0 72.5,497.0 74.0,496.9 77.5,496.4 89.6,496.4 106.9,496.4 124.2,496.4 132.9,496.9 136.3,497.2 138.1,497.6 139.8,497.2 140.7,499.8 141.5,503.3 142.4,507.6 143.3,512.8 144.1,516.7 153.8,516.7 154.7,511.1 155.9,504.2 157.0,499.0 157.7,497.2 160.8,497.2 162.2,500.7 163.4,503.3 165.1,504.5 166.8,503.8 168.0,500.7 169.4,497.2 171.2,497.2 183.3,497.6 185.0,496.9 186.7,498.1 190.2,497.6 195.4,497.2 200.6,496.9 209.2,496.9 230.0,496.9 287.3,496.9 288.7,498.1 289.9,500.7 291.6,502.4 293.4,502.1 295.1,499.8 296.3,497.6 297.7,497.2 308.1,497.2 309.8,498.1 311.5,499.0 313.7,499.0 315.4,498.1 317.1,497.2 322.3,496.9 390.0,497.2 391.7,498.6 393.5,499.8 396.1,500.3 398.7,499.0 400.4,497.6 407.3,497.2 480.0,497.2 505.3,496.8" fill="none" stroke="#2a2a2a" stroke-width="1.0" stroke-linejoin="round"/>
<line x1="57" y1="409.5" x2="505.3" y2="409.5" stroke="#f2d8dc" stroke-width="4.2"/>
<line x1="57" y1="409.5" x2="505.3" y2="409.5" stroke="#a46c7c" stroke-width="2.3"/>
<line x1="57" y1="431.2" x2="505.3" y2="431.2" stroke="#f2d8dc" stroke-width="4.2"/>
<line x1="57" y1="431.2" x2="505.3" y2="431.2" stroke="#a46c7c" stroke-width="2.3"/>
<line x1="57" y1="452.6" x2="505.3" y2="452.6" stroke="#f2d8dc" stroke-width="4.2"/>
<line x1="57" y1="452.6" x2="505.3" y2="452.6" stroke="#a46c7c" stroke-width="2.3"/>
<line x1="57" y1="473.9" x2="505.3" y2="473.9" stroke="#f2d8dc" stroke-width="4.2"/>
<line x1="57" y1="473.9" x2="505.3" y2="473.9" stroke="#a46c7c" stroke-width="2.3"/>
<line x1="57" y1="495.2" x2="505.3" y2="495.2" stroke="#a46c7c" stroke-width="2.3"/>
<line x1="57" y1="516.7" x2="505.3" y2="516.7" stroke="#a46c7c" stroke-width="2.3"/>
<line x1="56.6" y1="367.5" x2="505.3" y2="367.5" stroke="#8c8c8c" stroke-width="1"/>
<line x1="56.4" y1="367.0" x2="56.4" y2="518.5" stroke="#333" stroke-width="1.2"/>
<line x1="505.2" y1="367.0" x2="505.2" y2="518.3" stroke="#6a6a6a" stroke-width="1"/>
<text x="506.3" y="373.5" font-family="'Liberation Sans', sans-serif" font-size="5.2" font-weight="bold" fill="#000" text-anchor="start" textLength="6.2" lengthAdjust="spacingAndGlyphs" stroke="#000" stroke-width="0.25">6.0</text>
<text x="506.3" y="384.7" font-family="'Liberation Sans', sans-serif" font-size="5.2" font-weight="bold" fill="#000" text-anchor="start" textLength="6.2" lengthAdjust="spacingAndGlyphs" stroke="#000" stroke-width="0.25">0.0</text>
<text x="507.0" y="392.2" font-family="'Liberation Sans', sans-serif" font-size="5.2" font-weight="bold" fill="#000" text-anchor="start" textLength="10.8" lengthAdjust="spacingAndGlyphs" stroke="#000" stroke-width="0.25">100%</text>
<text x="507.0" y="415.90000000000003" font-family="'Liberation Sans', sans-serif" font-size="5.2" font-weight="bold" fill="#000" text-anchor="start" textLength="10.8" lengthAdjust="spacingAndGlyphs" stroke="#000" stroke-width="0.25">100%</text>
<text x="507.0" y="438.7" font-family="'Liberation Sans', sans-serif" font-size="5.2" font-weight="bold" fill="#000" text-anchor="start" textLength="10.8" lengthAdjust="spacingAndGlyphs" stroke="#000" stroke-width="0.25">100%</text>
<text x="507.0" y="459.8" font-family="'Liberation Sans', sans-serif" font-size="5.2" font-weight="bold" fill="#000" text-anchor="start" textLength="10.8" lengthAdjust="spacingAndGlyphs" stroke="#000" stroke-width="0.25">100%</text>
<text x="507.0" y="482.6" font-family="'Liberation Sans', sans-serif" font-size="5.2" font-weight="bold" fill="#000" text-anchor="start" textLength="10.8" lengthAdjust="spacingAndGlyphs" stroke="#000" stroke-width="0.25">100%</text>
<text x="507.0" y="503.0" font-family="'Liberation Sans', sans-serif" font-size="5.2" font-weight="bold" fill="#000" text-anchor="start" textLength="10.8" lengthAdjust="spacingAndGlyphs" stroke="#000" stroke-width="0.25">100%</text>
<text x="505.8" y="409.40000000000003" font-family="'Liberation Sans', sans-serif" font-size="5.2" font-weight="bold" fill="#000" text-anchor="start" textLength="8.6" lengthAdjust="spacingAndGlyphs" stroke="#000" stroke-width="0.25">50%</text>
<text x="505.8" y="428.2" font-family="'Liberation Sans', sans-serif" font-size="5.2" font-weight="bold" fill="#000" text-anchor="start" textLength="8.6" lengthAdjust="spacingAndGlyphs" stroke="#000" stroke-width="0.25">50%</text>
<text x="505.8" y="450.7" font-family="'Liberation Sans', sans-serif" font-size="5.2" font-weight="bold" fill="#000" text-anchor="start" textLength="8.6" lengthAdjust="spacingAndGlyphs" stroke="#000" stroke-width="0.25">50%</text>
<text x="505.8" y="471.8" font-family="'Liberation Sans', sans-serif" font-size="5.2" font-weight="bold" fill="#000" text-anchor="start" textLength="8.6" lengthAdjust="spacingAndGlyphs" stroke="#000" stroke-width="0.25">50%</text>
<text x="505.8" y="495.2" font-family="'Liberation Sans', sans-serif" font-size="5.2" font-weight="bold" fill="#000" text-anchor="start" textLength="8.6" lengthAdjust="spacingAndGlyphs" stroke="#000" stroke-width="0.25">50%</text>
<text x="505.8" y="515.8" font-family="'Liberation Sans', sans-serif" font-size="5.2" font-weight="bold" fill="#000" text-anchor="start" textLength="8.6" lengthAdjust="spacingAndGlyphs" stroke="#000" stroke-width="0.25">50%</text>
<line x1="464.7" y1="517.4" x2="464.7" y2="519.4" stroke="#555" stroke-width="0.9"/>
<line x1="427.9" y1="517.4" x2="427.9" y2="519.4" stroke="#555" stroke-width="0.9"/>
<line x1="391.1" y1="517.4" x2="391.1" y2="519.4" stroke="#555" stroke-width="0.9"/>
<line x1="354.4" y1="517.4" x2="354.4" y2="519.4" stroke="#555" stroke-width="0.9"/>
<line x1="317.6" y1="517.4" x2="317.6" y2="519.4" stroke="#555" stroke-width="0.9"/>
<line x1="280.8" y1="517.4" x2="280.8" y2="519.4" stroke="#555" stroke-width="0.9"/>
<line x1="244.1" y1="517.4" x2="244.1" y2="519.4" stroke="#555" stroke-width="0.9"/>
<line x1="207.3" y1="517.4" x2="207.3" y2="519.4" stroke="#555" stroke-width="0.9"/>
<line x1="170.5" y1="517.4" x2="170.5" y2="519.4" stroke="#555" stroke-width="0.9"/>
<line x1="133.7" y1="517.4" x2="133.7" y2="519.4" stroke="#555" stroke-width="0.9"/>
<line x1="96.9" y1="517.4" x2="96.9" y2="519.4" stroke="#555" stroke-width="0.9"/>
<text x="98.3" y="529.8" font-family="'Liberation Sans', sans-serif" font-size="8.6" font-weight="normal" fill="#222" text-anchor="middle" textLength="20.4" lengthAdjust="spacingAndGlyphs">-5000</text>
<text x="169.8" y="529.8" font-family="'Liberation Sans', sans-serif" font-size="8.6" font-weight="normal" fill="#222" text-anchor="middle" textLength="20.4" lengthAdjust="spacingAndGlyphs">-4000</text>
<text x="242.4" y="529.8" font-family="'Liberation Sans', sans-serif" font-size="8.6" font-weight="normal" fill="#222" text-anchor="middle" textLength="20.4" lengthAdjust="spacingAndGlyphs">-3000</text>
<text x="317.2" y="529.8" font-family="'Liberation Sans', sans-serif" font-size="8.6" font-weight="normal" fill="#222" text-anchor="middle" textLength="20.4" lengthAdjust="spacingAndGlyphs">-2000</text>
<text x="391.9" y="529.8" font-family="'Liberation Sans', sans-serif" font-size="8.6" font-weight="normal" fill="#222" text-anchor="middle" textLength="20.4" lengthAdjust="spacingAndGlyphs">-1000</text>
<text x="464.0" y="529.6" font-family="'Liberation Sans', sans-serif" font-size="8.6" font-weight="normal" fill="#222" text-anchor="middle" textLength="8.2" lengthAdjust="spacingAndGlyphs">+1</text>
<text x="315.9" y="539.4" font-family="'Liberation Sans', sans-serif" font-size="8.6" font-weight="normal" fill="#222" text-anchor="middle" textLength="15.8" lengthAdjust="spacingAndGlyphs">( nt )</text>
</svg>
</body></html>
